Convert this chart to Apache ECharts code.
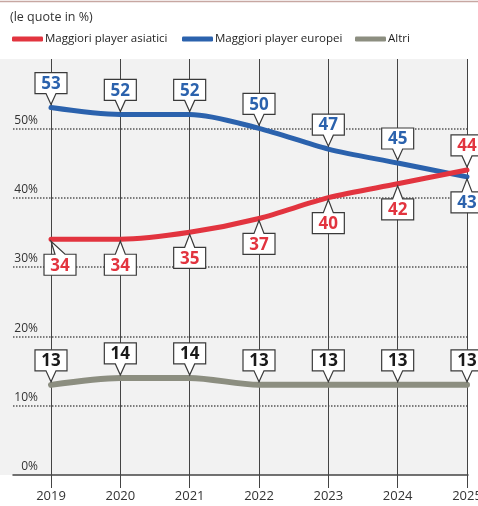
<!DOCTYPE html>
<html>
<head>
<meta charset="utf-8">
<script src="https://cdn.jsdelivr.net/npm/echarts@6/dist/echarts.min.js"></script>
<style>
  html, body { margin: 0; padding: 0; background: #ffffff; }
  #chart { width: 478px; height: 506px; }
</style>
</head>
<body>
<div id="chart"></div>
<script>
// Market shares by year (percent)
const years = ['2019', '2020', '2021', '2022', '2023', '2024', '2025'];
const asianPlayers = [34, 34, 35, 37, 40, 42, 44];
const europeanPlayers = [53, 52, 52, 50, 47, 45, 43];
const others = [13, 14, 14, 13, 13, 13, 13];
const yTicks = [0, 10, 20, 30, 40, 50, 60];

const RED = '#e2343f';
const BLUE = '#2b62ad';
const GREY = '#8c8e80';
const FONT = '"Open Sans", "Noto Sans", sans-serif';

const chart = echarts.init(document.getElementById('chart'), null, { renderer: 'canvas' });

// Callout box with a pointer to the data point
function calloutSeries(name, values, textColor, sideFn, shiftFn) {
  return {
    type: 'custom',
    name: name + ' label',
    xAxisIndex: 1,
    yAxisIndex: 1,
    z: 10,
    silent: true,
    clip: false,
    data: values.map((v, i) => [i, v]),
    renderItem: function (params, api) {
      const i = api.value(0);
      const v = api.value(1);
      const p = api.coord([i, v]);
      const side = sideFn(i);
      const dx = shiftFn ? shiftFn(i) : 0;
      const w = 32, h = 21, ph = 5;
      const cx = p[0] + dx;
      let pts, top;
      if (side === 'above') {
        const tipY = p[1] - 3;
        const bottom = p[1] - 14;
        top = bottom - h;
        pts = [[cx - w / 2, top], [cx + w / 2, top], [cx + w / 2, bottom],
               [cx + ph, bottom], [p[0], tipY], [cx - ph, bottom], [cx - w / 2, bottom]];
      } else {
        const tipY = p[1] + 2;
        top = p[1] + 15;
        const bottom = top + h;
        pts = [[cx - w / 2, top], [cx - ph, top], [p[0], tipY], [cx + ph, top],
               [cx + w / 2, top], [cx + w / 2, bottom], [cx - w / 2, bottom]];
      }
      return {
        type: 'group',
        children: [
          {
            type: 'polygon',
            shape: { points: pts },
            style: { fill: '#ffffff', stroke: '#3a3a3a', lineWidth: 1.2 }
          },
          {
            type: 'text',
            style: {
              text: String(v),
              x: cx,
              y: top + h / 2 + 1,
              align: 'center',
              verticalAlign: 'middle',
              fill: textColor,
              font: 'bold 17px ' + FONT
            }
          }
        ]
      };
    }
  };
}

function lineSeries(name, values, color, width) {
  return {
    type: 'line',
    name: name,
    xAxisIndex: 1,
    yAxisIndex: 1,
    data: values,
    smooth: 0.3,
    showSymbol: false,
    lineStyle: { color: color, width: width, cap: 'round' },
    itemStyle: { color: color },
    z: 3
  };
}

const last = years.length - 1;

chart.setOption({
  animation: false,
  textStyle: { fontFamily: FONT },
  title: {
    text: '(le quote in %)',
    left: 10,
    top: 11,
    padding: [0, 0, 0, 0],
    textStyle: { fontSize: 12.5, fontWeight: 'normal', color: '#333', fontFamily: FONT }
  },
  legend: [
    { data: ['Maggiori player asiatici'], left: 12, top: 33 },
    { data: ['Maggiori player europei'], left: 182, top: 33 },
    { data: ['Altri'], left: 355, top: 33 }
  ].map(l => Object.assign(l, {
    icon: 'roundRect',
    itemWidth: 31,
    itemHeight: 5,
    itemGap: 10,
    padding: 0,
    textStyle: { fontSize: 11.5, color: '#1e1e1e', fontFamily: FONT, padding: [0, 0, 0, -3] }
  })),
  graphic: [
    {
      type: 'line',
      shape: { x1: 0, y1: 1.5, x2: 478, y2: 1.5 },
      style: { stroke: '#c7a7a2', lineWidth: 1.5 },
      z: -10
    },
    {
      type: 'rect',
      shape: { x: 0, y: 59, width: 467, height: 416 },
      style: { fill: '#f2f2f2' },
      z: -10
    }
  ],
  grid: [
    { left: 13, right: 10, top: 59, bottom: 31, outerBoundsMode: 'none', containLabel: false },
    { left: 51, right: 11, top: 59, bottom: 31, outerBoundsMode: 'none', containLabel: false }
  ],
  xAxis: [
    {
      gridIndex: 0,
      type: 'value',
      min: 0,
      max: 1,
      axisLine: { show: true, onZero: false, lineStyle: { color: '#444', width: 1.5 } },
      axisTick: { show: false },
      axisLabel: { show: false },
      splitLine: { show: false }
    },
    {
      gridIndex: 1,
      type: 'category',
      data: years,
      boundaryGap: false,
      axisLine: { show: false },
      axisTick: { show: true, length: 13, lineStyle: { color: '#444', width: 1 } },
      axisLabel: { color: '#333', fontSize: 13, margin: 15, fontFamily: FONT },
      splitLine: { show: true, lineStyle: { color: '#444', width: 1 } }
    }
  ],
  yAxis: [
    {
      gridIndex: 0,
      type: 'value',
      min: 0,
      max: 60,
      interval: 10,
      offset: -27,
      axisLine: { show: false },
      axisTick: { show: false },
      axisLabel: {
        color: '#333',
        fontSize: 12,
        margin: 2,
        align: 'right',
        verticalAlign: 'bottom',
        padding: [0, 0, 2, 0],
        formatter: v => (yTicks.indexOf(v) >= 0 && v < 60 ? v + '%' : '')
      },
      splitLine: {
        show: true,
        lineStyle: {
          color: ['transparent', '#555', '#555', '#555', '#555', '#555', 'transparent'],
          width: 1.5,
          type: [1.5, 1.5]
        }
      }
    },
    {
      gridIndex: 1,
      type: 'value',
      min: 0,
      max: 60,
      interval: 10,
      show: false,
      splitLine: { show: false }
    }
  ],
  series: [
    lineSeries('Altri', others, GREY, 6),
    lineSeries('Maggiori player europei', europeanPlayers, BLUE, 5),
    lineSeries('Maggiori player asiatici', asianPlayers, RED, 5),
    calloutSeries('Altri', others, '#1a1a1a', () => 'above'),
    calloutSeries('Maggiori player europei', europeanPlayers, BLUE, i => (i === last ? 'below' : 'above')),
    calloutSeries('Maggiori player asiatici', asianPlayers, RED, i => (i === last ? 'above' : 'below'), i => (i === 0 ? 9 : 0))
  ]
});
</script>
</body>
</html>
